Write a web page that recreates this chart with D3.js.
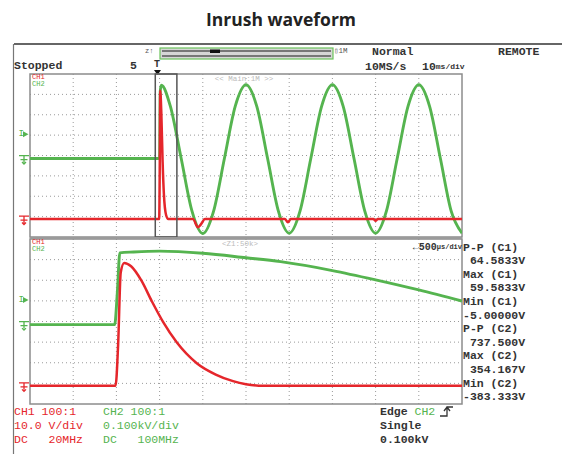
<!DOCTYPE html>
<html><head><meta charset="utf-8">
<script src="https://cdn.jsdelivr.net/npm/d3@7"></script>
<style>body{margin:0;background:#fff}svg{display:block}text{white-space:pre}</style>
</head><body>
<svg id="c" width="562" height="454"></svg>
<script>
// ---------------- data ----------------
const chartTitle = "Inrush waveform";
const xDivs = d3.range(0, 11);          // 10 horizontal divisions
const yDivs = d3.range(0, 9);           // 8 vertical divisions
const mainRange = [-30, 70];            // ms, 10 ms/div
const zoomRange = [-1, 4];              // ms, 500 us/div
const ch2Range = [-385, 415];           // V, 0.100 kV/div
const ch1Range = [-8.8, 71.2];          // V, 10.0 V/div

// main window, CH2 (voltage) [ms, V]
const mainCh2 = [[-30,0],[-0.3,0],[0,5],[0.15,330],[0.4,360],[2.5,256],[5,0],[7.5,-258],[10,-368],[12.5,-258],[15,0],[17.5,256],[20,362],[22.5,256],[25,0],[27.5,-258],[30,-366],[32.5,-258],[35,0],[37.5,256],[40,362],[42.5,256],[45,0],[47.5,-258],[50,-366],[52.5,-258],[55,0],[57.5,256],[60,362],[62.5,256],[65,0],[67.5,-258],[70,-366]];
// main window, CH1 (current probe) [ms, V]
const mainCh1 = [[-30,0],[-0.1,0],[0.05,30],[0.15,63],[0.4,52],[0.7,28],[1.0,12],[1.5,2],[2,0],[7.7,0],[8.9,-4],[9.6,-2.5],[10.5,0],[29,0],[29.7,-1.6],[30.4,0],[49.5,0],[50,-0.8],[50.5,0],[70,0]];
// zoom window, CH2 [ms, V]
const zoomCh2 = [[-1,0],[-0.02,0],[0.01,150],[0.04,348],[0.2,352],[0.5,356],[1.0,346],[1.5,324],[1.9,305],[2.5,262],[3.0,217],[3.5,168],[4.0,114]];
// zoom window, CH1 [ms, V]
const zoomCh1 = [[-1,0],[-0.01,0],[0.02,20],[0.05,55],[0.09,59.6],[0.17,58],[0.29,51],[0.41,41],[0.54,31],[0.70,21],[0.93,11],[1.15,5.5],[1.35,2.3],[1.5,0.8],[1.7,0],[4,0]];

const measLines = ["P-P (C1)"," 64.5833V","Max (C1)"," 59.5833V","Min (C1)","-5.00000V","P-P (C2)"," 737.500V","Max (C2)"," 354.167V","Min (C2)","-383.333V"];
const ch1Info = ["CH1 100:1","10.0 V/div","DC   20MHz"];
const ch2Info = ["CH2 100:1","0.100kV/div","DC   100MHz"];
const trigInfo = ["Edge ","Single","0.100kV"];

// ---------------- layout ----------------
const RED = "#e5262b", GREEN = "#55b44f", TXT = "#333";
const MONO = "'Liberation Mono','DejaVu Sans Mono',monospace";
const L = 30, R = 462;
const panels = [
  {top:74, bottom:237, range:mainRange, ch1:mainCh1, ch2:mainCh2, name:"main"},
  {top:239, bottom:404, range:zoomRange, ch1:zoomCh1, ch2:zoomCh2, name:"zoom"}
];
const svg = d3.select("#c");

svg.append("text").attr("x", 281).attr("y", 19).attr("text-anchor","middle")
  .attr("dominant-baseline","central").attr("font-family","'Open Sans',sans-serif")
  .attr("font-weight","bold").attr("font-size",17.5).attr("fill","#222").text(chartTitle);

// outer frame
svg.append("line").attr("x1",14).attr("x2",562).attr("y1",44).attr("y2",44).attr("stroke","#333").attr("stroke-width",1.6);
svg.append("line").attr("x1",13.5).attr("x2",13.5).attr("y1",44).attr("y2",454).attr("stroke","#777").attr("stroke-width",1.2);

function txt(x,y,s,opt={}) {
  return svg.append("text").attr("x",x).attr("y",y).attr("dominant-baseline","central")
    .attr("font-family", opt.family || MONO).attr("font-size", opt.size || 11.5)
    .attr("font-weight", opt.weight || "bold").attr("fill", opt.fill || TXT)
    .attr("text-anchor", opt.anchor || "start").text(s);
}

// header
txt(14,65,"Stopped");
txt(130,65,"5");
txt(154,64,"T",{size:10});
svg.append("path").attr("d","M154,70 L161,70 L157.5,75 Z").attr("fill","#111");
txt(145,51,"z\u2191",{size:7,weight:"normal",fill:"#555"});
svg.append("rect").attr("x",160).attr("y",48).attr("width",173).attr("height",11).attr("fill","#d6d6d6").attr("stroke","#6cc35c").attr("stroke-width",1.2);
svg.append("line").attr("x1",162).attr("x2",331).attr("y1",51).attr("y2",51).attr("stroke","#777").attr("stroke-width",2);
svg.append("line").attr("x1",162).attr("x2",331).attr("y1",56).attr("y2",56).attr("stroke","#777").attr("stroke-width",2);
svg.append("rect").attr("x",210).attr("y",49.5).attr("width",10).attr("height",3.5).attr("fill","#111");
txt(334,51,"\u25AF1M",{size:7.5,weight:"normal",fill:"#555"});
txt(372,51,"Normal");
txt(498,51,"REMOTE");
txt(365,66,"10MS/s");
const tb = svg.append("text").attr("x",422).attr("y",66).attr("dominant-baseline","central").attr("font-family",MONO).attr("font-weight","bold").attr("fill",TXT);
tb.append("tspan").attr("font-size",11.5).text("10");
tb.append("tspan").attr("font-size",8).text("ms/div");

// panels
panels.forEach(p => {
  const x = d3.scaleLinear().domain(p.range).range([L, R]);
  const divX = d3.scaleLinear().domain([0,10]).range([L, R]);
  const divY = d3.scaleLinear().domain([0,8]).range([p.top, p.bottom]);
  const y2 = d3.scaleLinear().domain(ch2Range).range([p.bottom, p.top]);
  const y1 = d3.scaleLinear().domain(ch1Range).range([p.bottom, p.top]);
  const g = svg.append("g");
  g.selectAll(".vx").data(xDivs.slice(1,-1)).join("line")
    .attr("x1",d=>divX(d)).attr("x2",d=>divX(d)).attr("y1",p.top).attr("y2",p.bottom)
    .attr("stroke","#9a9a9a").attr("stroke-width",1).attr("stroke-dasharray","1,3");
  g.selectAll(".hy").data(yDivs.slice(1,-1)).join("line")
    .attr("x1",L).attr("x2",R).attr("y1",d=>divY(d)).attr("y2",d=>divY(d))
    .attr("stroke","#9a9a9a").attr("stroke-width",1).attr("stroke-dasharray","1,3");
  g.append("rect").attr("x",L).attr("y",p.top).attr("width",R-L).attr("height",p.bottom-p.top)
    .attr("fill","none").attr("stroke","#8c8c8c").attr("stroke-width",1.5);

  const lineG = d3.line().x(d=>x(d[0])).y(d=>y2(d[1])).curve(d3.curveMonotoneX);
  const lineR = d3.line().x(d=>x(d[0])).y(d=>y1(d[1])).curve(d3.curveMonotoneX);
  const clipId = "clip-"+p.name;
  svg.append("clipPath").attr("id",clipId).append("rect").attr("x",L).attr("y",p.top).attr("width",R-L).attr("height",p.bottom-p.top);
  const tg = svg.append("g").attr("clip-path",`url(#${clipId})`);
  tg.append("path").attr("d",lineG(p.ch2)).attr("fill","none").attr("stroke",GREEN).attr("stroke-width",2.9).attr("stroke-linejoin","round");
  tg.append("path").attr("d",lineR(p.ch1)).attr("fill","none").attr("stroke",RED).attr("stroke-width",2.5).attr("stroke-linejoin","round");

  // channel labels
  txt(L+2,p.top+3,"CH1",{size:7,weight:"normal",fill:RED});
  txt(L+2,p.top+10,"CH2",{size:7,weight:"normal",fill:GREEN});

  // ground markers & trigger level
  const gm = (yy,col) => svg.append("path")
    .attr("d",`M19,${yy-3} H29 M24,${yy-3} V${yy+4} M20.5,${yy+1} H27.5 M22,${yy+3.5} L24,${yy+5.5} L26,${yy+3.5}`)
    .attr("fill","none").attr("stroke",col).attr("stroke-width",1.3);
  gm(y2(0),GREEN); gm(y1(0),RED);
  const ty = y2(100)-4;
  txt(18.5,ty,"I",{size:9,weight:"normal",fill:GREEN});
  svg.append("path").attr("d",`M23,${ty-3} L28.5,${ty} L23,${ty+3} Z`).attr("fill",GREEN);

  if (p.name === "main") {
    txt(244,p.top+4.5,"<< Main:1M >>",{size:7.5,weight:"normal",fill:"#bbb",anchor:"middle"});
    svg.append("rect").attr("x",x(zoomRange[0])).attr("y",p.top).attr("width",x(zoomRange[1])-x(zoomRange[0]))
      .attr("height",p.bottom-p.top).attr("fill","none").attr("stroke","#555").attr("stroke-width",1.5);
  } else {
    txt(240,p.top+5,"<Z1:50k>",{size:7.5,weight:"normal",fill:"#bbb",anchor:"middle"});
    const zt = svg.append("text").attr("x",R).attr("y",p.top+8).attr("text-anchor","end").attr("dominant-baseline","central").attr("font-family",MONO).attr("font-weight","bold").attr("fill",TXT);
    zt.append("tspan").attr("font-size",10).text("\u2190500");
    zt.append("tspan").attr("font-size",7).text("\u00B5s/div");
  }
});

// separator between windows
svg.append("line").attr("x1",L).attr("x2",R).attr("y1",238).attr("y2",238).attr("stroke","#9a9a9a").attr("stroke-width",2);

// measurements
measLines.forEach((s,i) => txt(463, 247 + i*13.6, s));
// bottom channel info
ch1Info.forEach((s,i) => txt(14, 411 + i*14, s, {fill:RED, weight:"normal"}));
ch2Info.forEach((s,i) => txt(103, 411 + i*14, s, {fill:GREEN, weight:"normal"}));
trigInfo.forEach((s,i) => txt(380, 411 + i*14, s));
txt(414.5, 411, "CH2", {fill:GREEN, weight:"normal"});
svg.append("path").attr("d","M440,416 H447 V407 H453 M444,411 L447,407 L450,411").attr("fill","none").attr("stroke","#333").attr("stroke-width",1.3);
</script>
</body></html>
